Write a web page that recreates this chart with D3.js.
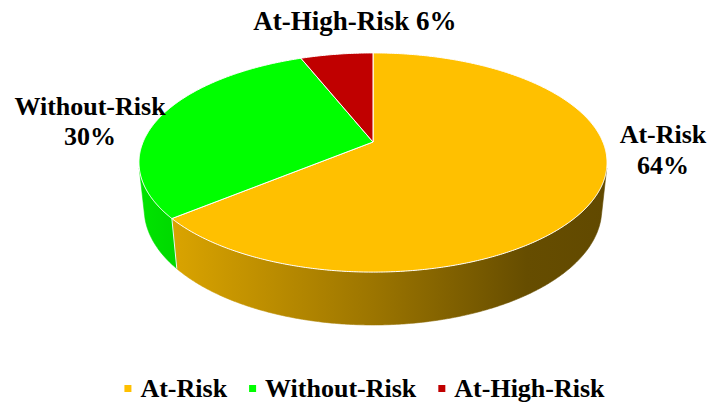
<!DOCTYPE html>
<html>
<head>
<meta charset="utf-8">
<script src="https://cdn.jsdelivr.net/npm/d3@7"></script>
<style>
  html, body { margin: 0; padding: 0; background: #fff; }
  svg { display: block; }
  text { font-family: "Liberation Serif", "Times New Roman", serif; font-weight: bold; fill: #000; }
</style>
</head>
<body>
<svg id="chart" width="710" height="403"></svg>
<script>
// ---- data ----
const categories = ["At-Risk", "Without-Risk", "At-High-Risk"];
const values = [64, 30, 6];
const percentLabels = ["64%", "30%", "6%"];

// ---- styles ----
const color = d3.scaleOrdinal().domain(categories).range(["#FFC000", "#00FF00", "#C00000"]);

const W = 710, H = 403;
const svg = d3.select("#chart");

// perspective projection of a flat cylinder (3D pie)
const cx = 373, cy = 142;
const sinA = 0.46, cosA = Math.sqrt(1 - sinA * sinA);
const R = 0.2108, dCam = 1, f = 1090.6, depth = 0.0486;

function proj(theta, z) {
  const X = R * Math.sin(theta), Y = R * Math.cos(theta);
  const xv = X, yv = Y * sinA + z * cosA, zv = dCam + Y * cosA - z * sinA;
  return [cx + f * xv / zv, cy - f * yv / zv];
}
const apex = [cx, cy];

const pie = d3.pie().sort(null).value(d => d)(values);
const step = Math.PI / 360;

function arcPoints(a0, a1, z) {
  const pts = [];
  const n = Math.max(2, Math.ceil((a1 - a0) / step));
  for (let i = 0; i <= n; i++) pts.push(proj(a0 + (a1 - a0) * i / n, z));
  return pts;
}

// visible range of outer wall (normal faces camera)
const cLim = -R / (dCam * cosA);
const visLo = Math.acos(cLim), visHi = 2 * Math.PI - Math.acos(cLim);

// gradient shading for the side walls (lighter on left, darker on right)
const xMin = cx - 240, xMax = cx + 240;
const shade = [[0, 0.9], [0.5, 0.61], [0.82, 0.40], [1, 0.38]];
const defs = svg.append("defs");
categories.forEach((c, i) => {
  const base = d3.rgb(color(c));
  const g = defs.append("linearGradient")
    .attr("id", "wall" + i)
    .attr("gradientUnits", "userSpaceOnUse")
    .attr("x1", xMin).attr("x2", xMax).attr("y1", 0).attr("y2", 0);
  shade.forEach(([o, k]) => {
    g.append("stop").attr("offset", o)
      .attr("stop-color", d3.rgb(base.r * k, base.g * k, base.b * k).formatHex());
  });
});

const line = d3.line();
const gPie = svg.append("g");

// walls
pie.forEach((s, i) => {
  const a0 = Math.max(s.startAngle, visLo), a1 = Math.min(s.endAngle, visHi);
  if (a1 <= a0) return;
  const top = arcPoints(a0, a1, 0);
  const bot = arcPoints(a0, a1, -depth).reverse();
  gPie.append("path")
    .attr("d", line(top.concat(bot)) + "Z")
    .attr("fill", `url(#wall${i})`)
    .attr("stroke", `url(#wall${i})`)
    .attr("stroke-width", 0.6);
});
// wall separators (white lines at slice boundaries on the visible wall)
pie.forEach((s) => {
  [s.startAngle].forEach(a => {
    if (a > visLo && a < visHi) {
      gPie.append("path")
        .attr("d", line([proj(a, 0), proj(a, -depth)]))
        .attr("stroke", "#f4f4f4").attr("stroke-width", 1).attr("fill", "none");
    }
  });
});

// top faces
pie.forEach((s, i) => {
  const pts = [apex].concat(arcPoints(s.startAngle, s.endAngle, 0));
  gPie.append("path")
    .attr("d", line(pts) + "Z")
    .attr("fill", color(categories[i]))
    .attr("stroke", "#ffffff")
    .attr("stroke-width", 1)
    .attr("stroke-linejoin", "round");
});

// data labels
const fs = 26;
const labels = svg.append("g").attr("font-size", fs);
// At-High-Risk (single line, above)
labels.append("text").attr("x", 355).attr("y", 30).attr("text-anchor", "middle")
  .attr("font-size", 27)
  .text(categories[2] + " " + percentLabels[2]);
// Without-Risk (left)
const tL = labels.append("text").attr("text-anchor", "middle");
tL.append("tspan").attr("x", 90).attr("y", 115).text(categories[1]);
tL.append("tspan").attr("x", 90).attr("y", 145).text(percentLabels[1]);
// At-Risk (right)
const tR = labels.append("text").attr("text-anchor", "middle");
tR.append("tspan").attr("x", 663).attr("y", 143).text(categories[0]);
tR.append("tspan").attr("x", 663).attr("y", 174).text(percentLabels[0]);

// legend
const lg = svg.append("g").attr("font-size", fs);
let x = 0;
const items = [];
categories.forEach((c, i) => {
  const it = lg.append("g");
  it.append("rect").attr("x", 0).attr("y", -12).attr("width", 7).attr("height", 7).attr("fill", color(c));
  const t = it.append("text").attr("x", 16).attr("y", 0).text(c);
  const w = 16 + t.node().getComputedTextLength();
  items.push({ it, x });
  x += w + 22;
});
const total = x - 22;
const startX = 364.5 - total / 2;
items.forEach(({ it, x }) => it.attr("transform", `translate(${startX + x},397)`));
</script>
</body>
</html>
